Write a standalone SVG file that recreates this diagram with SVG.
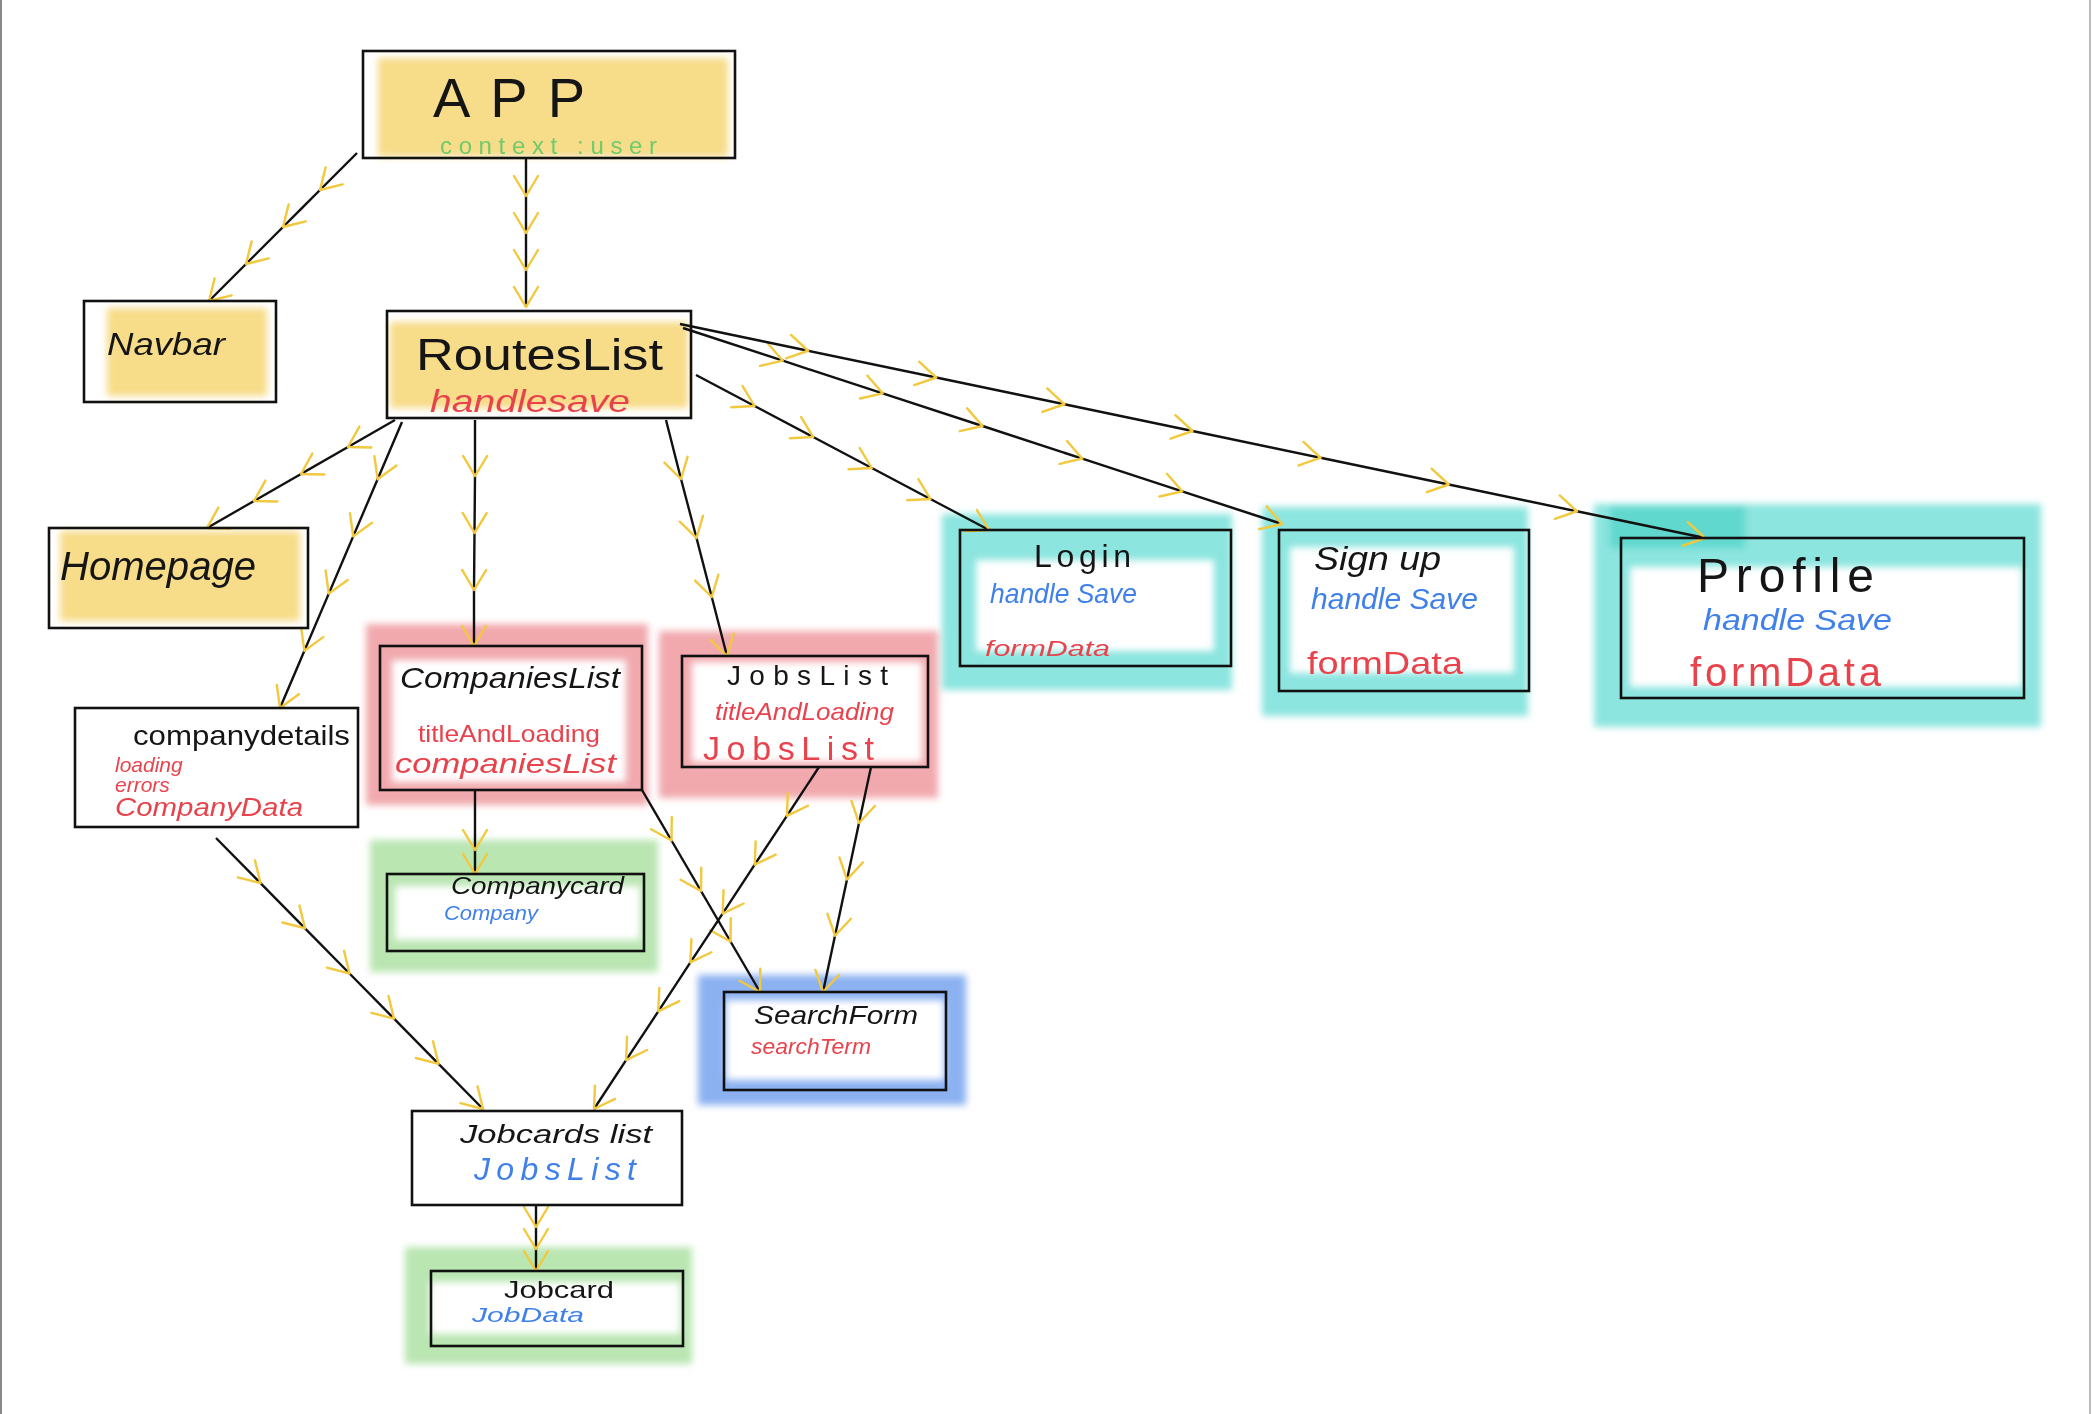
<svg xmlns="http://www.w3.org/2000/svg" width="2092" height="1414" viewBox="0 0 2092 1414">
<style>
.box{fill:none;stroke:#111;stroke-width:2.6}
.ln{fill:none;stroke:#111;stroke-width:2.4;marker-mid:url(#chev);marker-end:url(#chev)}
.t{font-family:"Liberation Sans","DejaVu Sans",sans-serif;fill:#151515}
.r{fill:#e8434c}
.b{fill:#3f80ea}
.g{fill:#6fcb6c}
.hy{fill:#f5d36a;opacity:.8}
.hr{fill:#ee9aa0;opacity:.85;fill-rule:evenodd}
.hc{fill:#7fe2db;opacity:.9;fill-rule:evenodd}
.hg{fill:#b3e3aa;opacity:.9;fill-rule:evenodd}
.hb{fill:#7ea9f0;opacity:.9;fill-rule:evenodd}
</style>
<defs>
<filter id="soft" x="-10%" y="-10%" width="120%" height="120%"><feGaussianBlur stdDeviation="3.5"/></filter>
<marker id="chev" markerUnits="userSpaceOnUse" markerWidth="50" markerHeight="50" viewBox="-25 -25 50 50" refX="0" refY="0" orient="auto" overflow="visible">
<path d="M-20,-12 L0,0 L-20,12" fill="none" stroke="#f2c83e" stroke-width="2.4" stroke-linecap="round" stroke-linejoin="round"/>
</marker>
</defs>
<rect width="2092" height="1414" fill="#fff"/>
<line x1="1" y1="0" x2="1" y2="1414" stroke="#888" stroke-width="2"/>
<line x1="2090" y1="0" x2="2090" y2="1414" stroke="#bbb" stroke-width="2"/>

<g id="highlights" filter="url(#soft)">
<rect class="hy" x="378" y="58" width="350" height="99"/>
<rect class="hy" x="107" y="308" width="160" height="88"/>
<rect class="hy" x="390" y="322" width="298" height="86"/>
<rect class="hy" x="60" y="531" width="240" height="90"/>
<path class="hr" d="M366 624H648V805H366Z M392 660H626V782H392Z"/>
<path class="hr" d="M659 631H938V798H659Z M692 662H922V762H692Z"/>
<path class="hc" d="M942 514H1232V690H942Z M976 560H1214V651H976Z"/>
<path class="hc" d="M1262 507H1528V716H1262Z M1290 547H1514V673H1290Z"/>
<path class="hc" d="M1594 504H2041V727H1594Z M1630 567H2022V687H1630Z"/>
<rect x="1610" y="506" width="135" height="42" fill="#4fd3c8" opacity=".7"/>
<path class="hg" d="M370 840H658V972H370Z M395 886H640V940H395Z"/>
<path class="hg" d="M405 1247H692V1364H405Z M430 1282H680V1334H430Z"/>
<path class="hb" d="M698 975H966V1105H698Z M726 1000H944V1080H726Z"/>
</g>

<g id="connectors">
<polyline class="ln" points="357,153 320,190 283,227 246,264 209,301"/>
<polyline class="ln" points="526,159 526,196 526,233 526,270 526,307"/>
<polyline class="ln" points="395,420 348,447 301,474 254,501 207,528"/>
<polyline class="ln" points="402,422 377.6,479.2 353.2,536.4 328.8,593.6 304.4,650.8 280,708"/>
<polyline class="ln" points="475,420 475,476 474.5,533 474,590 474,646"/>
<polyline class="ln" points="666,420 681,479 696.5,538 711.75,597 727,656"/>
<polyline class="ln" points="696,375 754.6,406 813.2,437 871.8,468 930.4,499 989,530"/>
<polyline class="ln" points="683,328 782.8,360.7 882.7,393.3 982.5,426 1082.3,458.7 1182.2,491.3 1282,524"/>
<polyline class="ln" points="680,324 808.1,350.75 936.25,377.5 1064.4,404.25 1192.5,431 1320.6,457.75 1448.75,484.5 1576.9,511.25 1705,538"/>
<polyline class="ln" points="475,790 475,850 475,874"/>
<polyline class="ln" points="642,790 671.5,840.5 701,891 730.5,941.5 760,992"/>
<polyline class="ln" points="819,767 786.9,815.9 754.7,864.7 722.6,913.6 690.4,962.4 658.3,1011.3 626.1,1060.1 594,1109"/>
<polyline class="ln" points="871,767 859,823 847,879.5 835,935.75 823,992"/>
<polyline class="ln" points="216,838 260.5,883.2 305,928.3 349.5,973.5 394,1018.7 438.5,1063.8 483,1109"/>
<polyline class="ln" points="536,1205 536,1227 536,1249 536,1271"/>
</g>

<g id="app"><rect class="box" x="363" y="51" width="372" height="107"/>
<text class="t" x="433" y="117" font-size="56" textLength="152" lengthAdjust="spacing">APP</text>
<text class="t g" x="440" y="154" font-size="24" textLength="217" lengthAdjust="spacing">context :user</text></g>

<g id="navbar"><rect class="box" x="84" y="301" width="192" height="101"/>
<text class="t" x="107" y="355" font-size="32" font-style="italic" textLength="118" lengthAdjust="spacingAndGlyphs">Navbar</text></g>

<g id="routeslist"><rect class="box" x="387" y="311" width="304" height="107"/>
<text class="t" x="416" y="370" font-size="44" textLength="247" lengthAdjust="spacingAndGlyphs">RoutesList</text>
<text class="t r" x="430" y="412" font-size="32" font-style="italic" textLength="200" lengthAdjust="spacingAndGlyphs">handlesave</text></g>

<g id="homepage"><rect class="box" x="49" y="528" width="259" height="100"/>
<text class="t" x="60" y="580" font-size="40" font-style="italic" textLength="196" lengthAdjust="spacingAndGlyphs">Homepage</text></g>

<g id="companydetails"><rect class="box" x="75" y="708" width="283" height="119"/>
<text class="t" x="133" y="745" font-size="28" textLength="217" lengthAdjust="spacingAndGlyphs">companydetails</text>
<text class="t r" x="115" y="772" font-size="21" font-style="italic">loading</text>
<text class="t r" x="115" y="792" font-size="21" font-style="italic">errors</text>
<text class="t r" x="115" y="816" font-size="25" font-style="italic" textLength="188" lengthAdjust="spacingAndGlyphs">CompanyData</text></g>

<g id="companieslist"><rect class="box" x="380" y="646" width="262" height="144"/>
<text class="t" x="400" y="688" font-size="30" font-style="italic" textLength="220" lengthAdjust="spacingAndGlyphs">CompaniesList</text>
<text class="t r" x="418" y="742" font-size="24" textLength="182" lengthAdjust="spacingAndGlyphs">titleAndLoading</text>
<text class="t r" x="395" y="773" font-size="28" font-style="italic" textLength="221" lengthAdjust="spacingAndGlyphs">companiesList</text></g>

<g id="jobslist"><rect class="box" x="682" y="656" width="246" height="111"/>
<text class="t" x="727" y="685" font-size="28" textLength="161" lengthAdjust="spacing">JobsList</text>
<text class="t r" x="715" y="720" font-size="24" font-style="italic" textLength="179" lengthAdjust="spacingAndGlyphs">titleAndLoading</text>
<text class="t r" x="703" y="760" font-size="34" textLength="171" lengthAdjust="spacing">JobsList</text></g>

<g id="login"><rect class="box" x="960" y="530" width="271" height="136"/>
<text class="t" x="1034" y="567" font-size="32" textLength="97" lengthAdjust="spacing">Login</text>
<text class="t b" x="990" y="603" font-size="28" font-style="italic" textLength="147" lengthAdjust="spacingAndGlyphs">handle Save</text>
<text class="t r" x="985" y="656" font-size="22" font-style="italic" textLength="125" lengthAdjust="spacingAndGlyphs">formData</text></g>

<g id="signup"><rect class="box" x="1279" y="530" width="250" height="161"/>
<text class="t" x="1314" y="570" font-size="34" font-style="italic" textLength="127" lengthAdjust="spacingAndGlyphs">Sign up</text>
<text class="t b" x="1311" y="609" font-size="30" font-style="italic" textLength="167" lengthAdjust="spacingAndGlyphs">handle Save</text>
<text class="t r" x="1307" y="674" font-size="32" textLength="156" lengthAdjust="spacingAndGlyphs">formData</text></g>

<g id="profile"><rect class="box" x="1621" y="538" width="403" height="160"/>
<text class="t" x="1697" y="592" font-size="48" textLength="177" lengthAdjust="spacing">Profile</text>
<text class="t b" x="1703" y="630" font-size="30" font-style="italic" textLength="189" lengthAdjust="spacingAndGlyphs">handle Save</text>
<text class="t r" x="1690" y="686" font-size="40" textLength="191" lengthAdjust="spacing">formData</text></g>

<g id="companycard"><rect class="box" x="387" y="874" width="257" height="77"/>
<text class="t" x="451" y="894" font-size="24" font-style="italic" textLength="173" lengthAdjust="spacingAndGlyphs">Companycard</text>
<text class="t b" x="444" y="920" font-size="20" font-style="italic" textLength="94" lengthAdjust="spacingAndGlyphs">Company</text></g>

<g id="searchform"><rect class="box" x="724" y="992" width="222" height="98"/>
<text class="t" x="754" y="1024" font-size="26" font-style="italic" textLength="164" lengthAdjust="spacingAndGlyphs">SearchForm</text>
<text class="t r" x="751" y="1054" font-size="22" font-style="italic" textLength="120" lengthAdjust="spacingAndGlyphs">searchTerm</text></g>

<g id="jobcardslist"><rect class="box" x="412" y="1111" width="270" height="94"/>
<text class="t" x="460" y="1143" font-size="26" font-style="italic" textLength="192" lengthAdjust="spacingAndGlyphs">Jobcards list</text>
<text class="t b" x="474" y="1180" font-size="32" font-style="italic" textLength="162" lengthAdjust="spacing">JobsList</text></g>

<g id="jobcard"><rect class="box" x="431" y="1271" width="252" height="75"/>
<text class="t" x="504" y="1298" font-size="24" textLength="110" lengthAdjust="spacingAndGlyphs">Jobcard</text>
<text class="t b" x="472" y="1322" font-size="21" font-style="italic" textLength="112" lengthAdjust="spacingAndGlyphs">JobData</text></g>
</svg>
